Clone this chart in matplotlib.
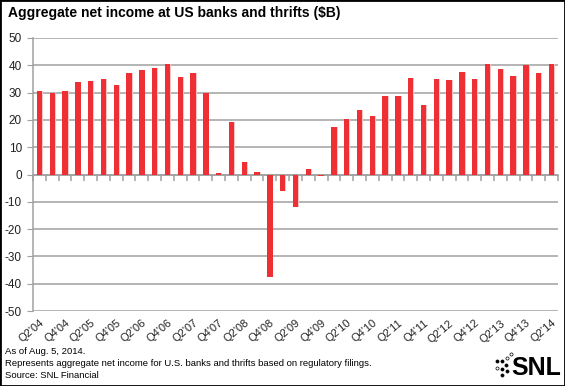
import matplotlib
matplotlib.use('Agg')
import matplotlib.pyplot as plt
import numpy as np
from matplotlib.patches import Rectangle

quarters = []
for yr in range(4, 15):
    for q in range(1, 5):
        quarters.append(f"Q{q}'{yr:02d}")
quarters = quarters[1:-2]  # Q2'04 .. Q2'14

net_income = [30.6, 29.7, 30.6, 34.0, 34.4, 34.9, 32.8, 37.0, 38.3, 38.9,
              40.4, 35.7, 37.0, 30.0, 0.4, 19.3, 4.5, 0.9, -37.6, -6.1,
              -11.9, 2.1, -0.4, 17.3, 20.5, 23.7, 21.5, 28.9, 28.7, 35.4,
              25.4, 34.9, 34.5, 37.5, 34.9, 40.4, 38.5, 36.1, 40.0, 37.3, 40.4]

y_ticks = [50, 40, 30, 20, 10, 0, -10, -20, -30, -40, -50]

title = 'Aggregate net income at US banks and thrifts ($B)'
notes = ['As of Aug. 5, 2014.',
         'Represents aggregate net income for U.S. banks and thrifts based on regulatory filings.',
         'Source: SNL Financial']

BAR = '#ee3035'
SHADE = '#f8c4c6'
GRID = '#a0a0a0'


def main():
    plt.rcParams['font.family'] = ['Liberation Sans', 'DejaVu Sans']
    fig = plt.figure(figsize=(5.65, 3.86), dpi=100)
    ax = fig.add_axes([33 / 565, 1 - 311 / 386, 525 / 565, 273 / 386])

    x = np.arange(len(net_income))
    w = 0.42
    # pale halo on the right of each bar
    ax.bar(x + 0.07, net_income, width=w, color=SHADE, zorder=2)
    ax.bar(x, net_income, width=w, color=BAR, zorder=3)

    ax.set_xlim(-0.5, len(net_income) - 0.5)
    ax.set_ylim(-50, 50)
    ax.set_yticks(y_ticks)
    ax.set_yticklabels([str(v) for v in y_ticks], fontsize=8.5, color='#222222')
    ax.yaxis.grid(True, color=GRID, lw=1.1)
    ax.set_axisbelow(True)
    ax.tick_params(axis='y', length=4, color=GRID, pad=4)

    for s in ['top', 'right']:
        ax.spines[s].set_visible(False)
    ax.spines['left'].set_color(GRID)
    ax.spines['left'].set_linewidth(1.1)
    ax.spines['bottom'].set_position(('data', 0))
    ax.spines['bottom'].set_color(GRID)
    ax.spines['bottom'].set_linewidth(1.1)
    ax.set_xticks(np.arange(len(net_income) + 1) - 0.5)
    ax.set_xticklabels([])
    ax.tick_params(axis='x', length=4, color=GRID, width=1.1)

    sec = ax.secondary_xaxis('bottom')
    sec.set_xticks(x[::2])
    sec.set_xticklabels(quarters[::2], rotation=40, ha='right',
                        rotation_mode='anchor', fontsize=8, color='#222222')
    sec.tick_params(length=0, pad=5)
    sec.spines['bottom'].set_visible(False)

    fig.text(8 / 565, 1 - 13 / 386, title, fontsize=10, fontweight='bold',
             va='center')
    for i, line in enumerate(notes):
        fig.text(5 / 565, 1 - (352 + i * 12) / 386, line, fontsize=6.8,
                 va='center')

    # SNL logo
    fig.text(561 / 565, 1 - 368 / 386, 'SNL', fontsize=18, fontweight='bold',
             ha='right', va='center')
    lax = fig.add_axes([494 / 565, 1 - 378 / 386, 22 / 565, 30 / 386])
    lax.set_xlim(494, 516)
    lax.set_ylim(378, 348)
    lax.axis('off')
    logo_dots = [(511, 354, False), (507, 358, False), (502, 361, True),
                 (497, 361, True), (506, 365, True), (497, 368, False),
                 (502, 369, True), (507, 371, True), (502, 375, True)]
    for px, py, filled in logo_dots:
        lax.scatter(px, py, s=5, facecolor='black' if filled else 'white',
                    edgecolor='black', lw=0.5)

    fig.patches.append(Rectangle((0, 0), 1, 1, transform=fig.transFigure,
                                 fill=False, edgecolor='black', lw=2))
    fig.savefig('out.png', dpi=100)
    plt.close(fig)


if __name__ == '__main__':
    main()
